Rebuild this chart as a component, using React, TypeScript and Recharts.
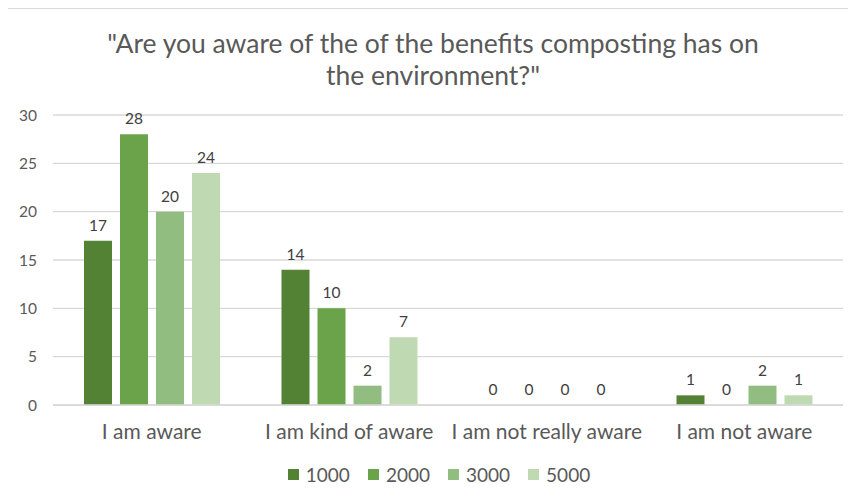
import React from 'react'
import { BarChart, Bar, XAxis, YAxis, CartesianGrid, Legend, LabelList } from 'recharts'

const categories = ['I am aware', 'I am kind of aware', 'I am not really aware', 'I am not aware']
const series1000 = [17, 14, 0, 1]
const series2000 = [28, 10, 0, 0]
const series3000 = [20, 2, 0, 2]
const series5000 = [24, 7, 0, 1]
const yTicks = [0, 5, 10, 15, 20, 25, 30]

const seriesList = [
  { key: 's1000', name: '1000', values: series1000, color: '#548235' },
  { key: 's2000', name: '2000', values: series2000, color: '#6AA34A' },
  { key: 's3000', name: '3000', values: series3000, color: '#92BD80' },
  { key: 's5000', name: '5000', values: series5000, color: '#BFD9B3' },
]

const data = categories.map((label, i) => {
  const row: Record<string, string | number> = { label }
  seriesList.forEach(s => {
    row[s.key] = s.values[i]
  })
  return row
})

const FONT = 'Lato, "Open Sans", sans-serif'
const GRAY = '#595959'

function LegendContent() {
  return (
    <div style={{ display: 'flex', justifyContent: 'center', gap: 18, fontFamily: FONT, fontSize: 19, color: GRAY }}>
      {seriesList.map(s => (
        <div key={s.key} style={{ display: 'flex', alignItems: 'center', gap: 7 }}>
          <span style={{ width: 11, height: 11, background: s.color, display: 'inline-block' }} />
          <span>{s.name}</span>
        </div>
      ))}
    </div>
  )
}

export default function App() {
  return (
    <div style={{ position: 'relative', width: 856, height: 502, margin: -8, overflow: 'hidden', background: '#fff' }}>
      {/* caption line above the chart, clipped by the page edge */}
      <div
        style={{
          position: 'absolute',
          top: -21,
          left: 33,
          fontFamily: '"Liberation Serif", serif',
          fontStyle: 'italic',
          fontSize: 27,
          lineHeight: '27px',
          color: '#222',
          whiteSpace: 'nowrap',
        }}
      >
        Nature of a survey results by 1000 in Table 3
      </div>
      <div
        style={{
          position: 'absolute',
          top: 8,
          left: 6,
          width: 900,
          height: 560,
          border: '1.5px solid #d9d9d9',
          boxSizing: 'border-box',
        }}
      />
      <div
        style={{
          position: 'absolute',
          top: 27,
          left: 0,
          width: 866,
          textAlign: 'center',
          fontFamily: FONT,
          fontSize: 26.5,
          lineHeight: '32px',
          color: GRAY,
        }}
      >
        "Are you aware of the of the benefits composting has on
        <br />
        the environment?"
      </div>
      <div style={{ position: 'absolute', top: 0, left: 0 }}>
        <BarChart
          width={856}
          height={502}
          data={data}
          margin={{ top: 115, right: 13, bottom: 67, left: 0 }}
          barCategoryGap={31}
          barGap={8}
        >
          <CartesianGrid vertical={false} stroke="#d9d9d9" strokeWidth={1.3} />
          <XAxis
            dataKey="label"
            axisLine={{ stroke: '#d9d9d9', strokeWidth: 1.3 }}
            tickLine={false}
            tickSize={0}
            tickMargin={19}
            height={30}
            interval={0}
            tick={{ fill: GRAY, fontSize: 21, fontFamily: FONT }}
          />
          <YAxis
            width={53}
            domain={[0, 30]}
            ticks={yTicks}
            axisLine={false}
            tickLine={false}
            tickSize={0}
            tickMargin={16}
            tick={{ fill: GRAY, fontSize: 15.5, fontFamily: FONT }}
          />
          <Legend
            layout="horizontal"
            verticalAlign="middle"
            align="center"
            content={<LegendContent />}
            wrapperStyle={{ top: 463, left: 0, width: 878 }}
          />
          {seriesList.map(s => (
            <Bar
              key={s.key}
              dataKey={s.key}
              name={s.name}
              fill={s.color}
              minPointSize={0.01}
              isAnimationActive={false}
            >
              <LabelList dataKey={s.key} position="top" offset={10} fill="#404040" fontSize={15.5} fontFamily={FONT} />
            </Bar>
          ))}
        </BarChart>
      </div>
    </div>
  )
}
